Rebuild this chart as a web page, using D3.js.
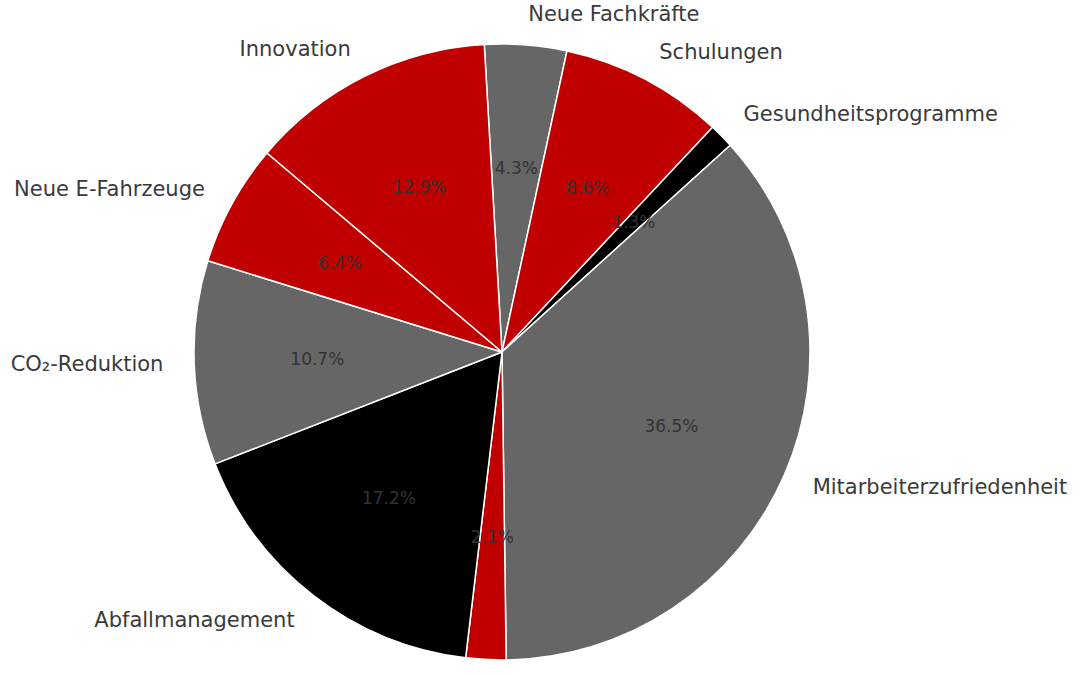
<!DOCTYPE html>
<html>
<head>
<meta charset="utf-8">
<script src="https://cdn.jsdelivr.net/npm/d3@7"></script>
<style>
  body { margin: 0; background: #fff; }
  svg { display: block; font-family: "DejaVu Sans", sans-serif; }
</style>
</head>
<body>
<svg width="1080" height="675"></svg>
<script>
const svg = d3.select('svg');
const width = +svg.attr('width');
const height = +svg.attr('height');

// slices in clockwise order, starting just left of 12 o'clock
const categories = ['Neue Fachkräfte', 'Schulungen', 'Gesundheitsprogramme', 'Mitarbeiterzufriedenheit',
    'Sonstiges', 'Abfallmanagement', 'CO₂-Reduktion', 'Neue E-Fahrzeuge', 'Innovation'];
const values = [4.3, 8.6, 1.3, 36.5, 2.1, 17.2, 10.7, 6.4, 12.9];
const colors = ['#666666', '#c00000', '#000000', '#666666', '#c00000', '#000000', '#666666', '#c00000', '#c00000'];

const data = categories.map((name, i) => ({ name, value: values[i], color: colors[i] }));

const cx = 502, cy = 352, radius = 308;
const startAngle = -3.3 * Math.PI / 180;

const pie = d3.pie()
    .sort(null)
    .value(d => d.value)
    .startAngle(startAngle)
    .endAngle(startAngle + 2 * Math.PI);

const arc = d3.arc().innerRadius(0).outerRadius(radius);
const pctArc = d3.arc().innerRadius(radius * 0.6).outerRadius(radius * 0.6);

const g = svg.append('g').attr('transform', `translate(${cx},${cy})`);
const arcs = pie(data);

g.selectAll('path').data(arcs).enter().append('path')
    .attr('d', arc)
    .attr('fill', d => d.data.color)
    .attr('stroke', '#ffffff')
    .attr('stroke-width', 1.5)
    .attr('stroke-linejoin', 'round');

g.selectAll('text.pct').data(arcs).enter().append('text')
    .attr('class', 'pct')
    .attr('transform', d => `translate(${pctArc.centroid(d)})`)
    .attr('text-anchor', 'middle')
    .attr('dominant-baseline', 'central')
    .attr('font-size', 17)
    .attr('fill', '#333333')
    .text(d => d.data.value.toFixed(1) + '%');

// outer labels at 1.1 * radius, anchored by side; the one below the frame is not drawn (as in the original)
const labelPos = d => {
    const a = (d.startAngle + d.endAngle) / 2;
    return [Math.sin(a) * radius * 1.1, -Math.cos(a) * radius * 1.1];
};

g.selectAll('text.lbl').data(arcs.filter(d => cy + labelPos(d)[1] < height - 10)).enter().append('text')
    .attr('class', 'lbl')
    .attr('x', d => labelPos(d)[0])
    .attr('y', d => labelPos(d)[1])
    .attr('text-anchor', d => labelPos(d)[0] >= 0 ? 'start' : 'end')
    .attr('dominant-baseline', 'central')
    .attr('font-size', 21)
    .attr('fill', '#3a3a3a')
    .text(d => d.data.name);
</script>
</body>
</html>
